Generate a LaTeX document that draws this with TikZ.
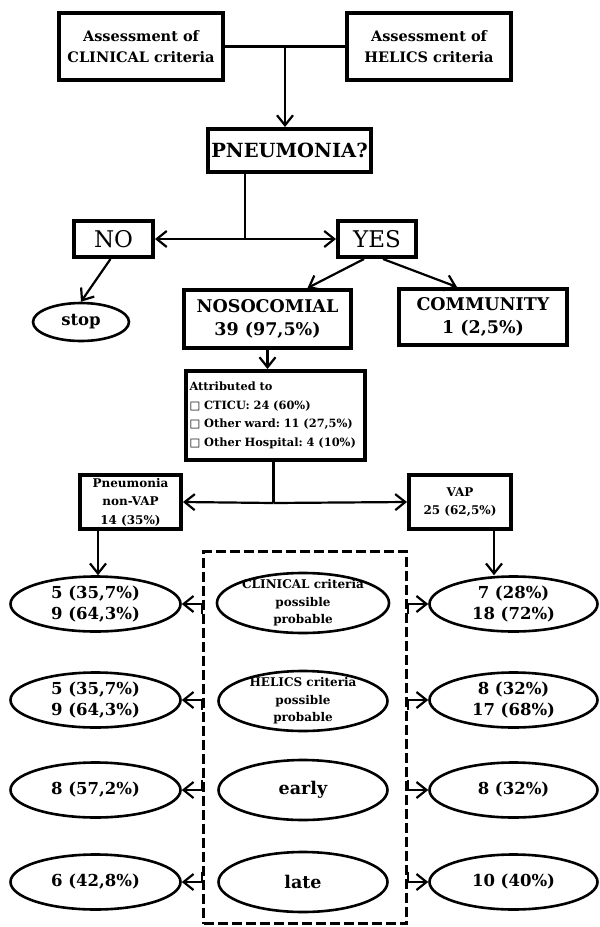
\documentclass[tikz,border=0pt]{standalone}
\usepackage{fontspec}
\setmainfont{DejaVu Serif}
\newfontfamily\symf{DejaVu Sans}
\usetikzlibrary{arrows.meta,shapes.geometric,calc}
\newcommand\os[1]{#1}
\frenchspacing
\tikzset{
  fb/.style 2 args={font=\bfseries\fontsize{#1}{#2}\selectfont},
  fm/.style 2 args={font=\mdseries\fontsize{#1}{#2}\selectfont},
  box/.style={draw, line width=4pt, rectangle, inner sep=0pt, align=center},
  oval/.style={draw, line width=2.6pt, ellipse, inner xsep=0pt, inner ysep=-4pt, align=center},
  conn/.style={line width=2.2pt},
  arr/.style={conn, -{Straight Barb[length=10pt,width=16pt]}},
  frm/.style={draw, line width=3pt, dash pattern=on 10pt off 4pt, rectangle, inner sep=0pt},
}
\begin{document}
\begin{tikzpicture}[x=1pt,y=-1pt]
\useasboundingbox (0,0) rectangle (600,927);
% boxes
\node[box, fb={14.5}{21.5}, minimum width=164pt, minimum height=67pt] (clin) at (141,46.5) {Assessment of\\CLINICAL criteria};
\node[box, fb={14.5}{21.5}, minimum width=164pt, minimum height=67pt] (hel) at (429,46.5) {Assessment of\\HELICS criteria};
\node[box, fb={19.5}{23}, minimum width=163pt, minimum height=43pt] (pneu) at (289.5,150.5) {PNEUMONIA?};
\node[box, fm={23}{28}, minimum width=79pt, minimum height=36pt] (no) at (113.5,239) {NO};
\node[box, fm={23}{28}, minimum width=78pt, minimum height=36pt] (yes) at (377,239) {YES};
\node[oval, fb={16.5}{22}, minimum width=96pt, minimum height=38pt] (stop) at (81,322) {stop};
\node[box, fb={17.5}{23}, minimum width=167pt, minimum height=58pt] (noso) at (267.5,319) {NOSOCOMIAL\\\os{39} (\os{97},\os{5}\%)};
\node[box, fb={17.5}{23}, minimum width=168pt, minimum height=56pt] (comm) at (483,317) {COMMUNITY\\\os{1} (\os{2},\os{5}\%)};
\node[box, fb={11.4}{18.5}, minimum width=179pt, minimum height=89pt, text width=171pt, align=left] (attr) at (275,415.5)
  {Attributed to\\{\mdseries\symf □} CTICU: \os{24} (\os{60}\%)\\{\mdseries\symf □} Other ward: \os{11} (\os{27},\os{5}\%)\\{\mdseries\symf □} Other Hospital: \os{4} (\os{10}\%)};
\node[box, fb={12}{18.5}, minimum width=101pt, minimum height=54pt] (nonvap) at (130.5,502) {Pneumonia\\non-VAP\\\os{14} (\os{35}\%)};
\node[box, fb={12}{18.5}, minimum width=102pt, minimum height=54pt] (vap) at (460,502) {VAP\\\os{25} (\os{62},\os{5}\%)};
% dashed frame
\node[frm, minimum width=203pt, minimum height=372pt] (frame) at (305,737.5) {};
% left ovals
\node[oval, fb={16.5}{21}, minimum width=170pt, minimum height=55pt] (l1) at (95.5,604) {\os{5} (\os{35},\os{7}\%)\\\os{9} (\os{64},\os{3}\%)};
\node[oval, fb={16.5}{21}, minimum width=170pt, minimum height=55pt] (l2) at (95.5,700) {\os{5} (\os{35},\os{7}\%)\\\os{9} (\os{64},\os{3}\%)};
\node[oval, fb={16.5}{21}, minimum width=170pt, minimum height=55pt] (l3) at (95.5,790) {\os{8} (\os{57},\os{2}\%)};
\node[oval, fb={16.5}{21}, minimum width=170pt, minimum height=55pt] (l4) at (95.5,882) {\os{6} (\os{42},\os{8}\%)};
% middle ovals
\node[oval, fb={12}{17.5}, minimum width=169pt, minimum height=60pt] (m1) at (303,603) {CLINICAL criteria\\possible\\probable};
\node[oval, fb={12}{17.5}, minimum width=169pt, minimum height=60pt] (m2) at (303,701) {HELICS criteria\\possible\\probable};
\node[oval, fb={17.5}{22}, minimum width=169pt, minimum height=60pt] (m3) at (303,790) {early};
\node[oval, fb={17.5}{22}, minimum width=169pt, minimum height=60pt] (m4) at (303,882) {late};
% right ovals
\node[oval, fb={16.5}{21}, minimum width=168pt, minimum height=55pt] (r1) at (513.5,604) {\os{7} (\os{28}\%)\\\os{18} (\os{72}\%)};
\node[oval, fb={16.5}{21}, minimum width=168pt, minimum height=55pt] (r2) at (513.5,700) {\os{8} (\os{32}\%)\\\os{17} (\os{68}\%)};
\node[oval, fb={16.5}{21}, minimum width=168pt, minimum height=55pt] (r3) at (513.5,790) {\os{8} (\os{32}\%)};
\node[oval, fb={16.5}{21}, minimum width=168pt, minimum height=55pt] (r4) at (513.5,882) {\os{10} (\os{40}\%)};
% connectors
\coordinate (j1) at (285,46.5);
\draw[conn] (clin.east) -- (hel.west);
\draw[arr] (j1) -- (j1 |- pneu.north);
\coordinate (j2) at (245,239);
\draw[conn] (j2 |- pneu.south) -- (j2);
\draw[arr] (j2) -- (no.east);
\draw[arr] (j2) -- (yes.west);
\draw[arr] ([xshift=-3pt]no.south) -- (stop.north);
\draw[arr] ([xshift=-13pt]yes.south) -- ([xshift=40pt]noso.north);
\draw[arr] ([xshift=6pt]yes.south) -- ([xshift=-26pt]comm.north);
\draw[arr] (noso.south) -- (noso.south |- attr.north);
\coordinate (j3) at (273.5,503);
\draw[conn] (j3 |- attr.south) -- (j3);
\draw[arr] (j3) -- (nonvap.east);
\draw[arr] (j3) -- (vap.west);
\coordinate (a1) at ([xshift=-32.5pt]nonvap.south);
\draw[arr] (a1) -- (a1 |- l1.north);
\coordinate (a2) at ([xshift=34pt]vap.south);
\draw[arr] (a2) -- (a2 |- r1.north);
\foreach \i/\d in {1/10,2/10,3/-10,4/-10}{
  \draw[arr] (frame.west |- l\i) -- (l\i.east);
  \draw[conn] (frame.west |- l\i) -- ++(0,\d);
  \draw[arr] (frame.east |- r\i) -- (r\i.west);
  \draw[conn] (frame.east |- r\i) -- ++(0,\d);
}
\end{tikzpicture}
\end{document}
